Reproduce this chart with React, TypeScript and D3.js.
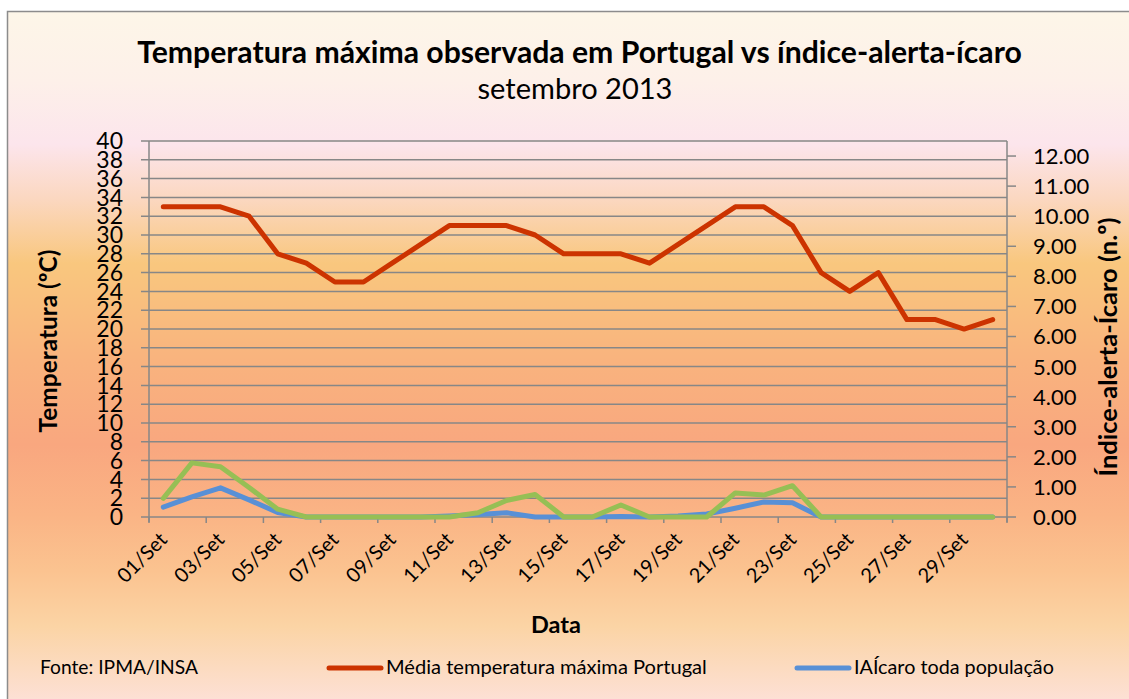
import React, { useRef, useEffect } from "react";
import * as d3 from "d3";

const W = 1129;
const H = 699;

const DAYS = [
  "01/Set", "02/Set", "03/Set", "04/Set", "05/Set", "06/Set", "07/Set", "08/Set", "09/Set", "10/Set",
  "11/Set", "12/Set", "13/Set", "14/Set", "15/Set", "16/Set", "17/Set", "18/Set", "19/Set", "20/Set",
  "21/Set", "22/Set", "23/Set", "24/Set", "25/Set", "26/Set", "27/Set", "28/Set", "29/Set", "30/Set",
];

// temperatura máxima média (eixo esquerdo, ºC)
const TEMP_MAX = [33, 33, 33, 32, 28, 27, 25, 25, 27, 29, 31, 31, 31, 30, 28, 28, 28, 27, 29, 31, 33, 33, 31, 26, 24, 26, 21, 21, 20, 21];
// índice ícaro (eixo direito)
const ICARO_TODA = [0.33, 0.67, 0.97, 0.57, 0.15, 0, 0, 0, 0, 0, 0.03, 0.08, 0.14, 0, 0, 0, 0.02, 0, 0.03, 0.1, 0.29, 0.5, 0.47, 0, 0, 0, 0, 0, 0, 0];
const ICARO_OUTRO = [0.62, 1.8, 1.67, 0.98, 0.26, 0, 0, 0, 0, 0, 0, 0.14, 0.55, 0.75, 0, 0, 0.4, 0, 0, 0, 0.8, 0.73, 1.04, 0, 0, 0, 0, 0, 0, 0];

const LEFT_TICKS = d3.range(0, 41, 2);
const RIGHT_TICKS = d3.range(0, 13, 1);

const TITLE = "Temperatura máxima observada em Portugal vs índice-alerta-ícaro";
const SUBTITLE = "setembro 2013";
const FONT = "Lato, 'Open Sans', sans-serif";
const GRID = "#878787";
const RED = "#cc3300";
const BLUE = "#5890d6";
const GREEN = "#96bf55";

// ajusta o tamanho da fonte para uma largura alvo
function fit(sel: d3.Selection<SVGTextElement, unknown, null, undefined>, target: number) {
  const node = sel.node();
  if (!node) return;
  const len = node.getComputedTextLength();
  const fs = parseFloat(sel.attr("font-size"));
  if (len > 0) sel.attr("font-size", (fs * target) / len);
}

export default function App() {
  const svgRef = useRef<SVGSVGElement | null>(null);

  useEffect(() => {
    if (!svgRef.current) return;
    const svg = d3.select(svgRef.current);
    svg.selectAll("*").remove();

    const plot = { left: 149, right: 1007, top: 141, bottom: 517 };

    const x = d3.scaleBand<string>().domain(DAYS).range([plot.left, plot.right]).paddingInner(0).paddingOuter(0);
    const cx = (d: string) => (x(d) ?? 0) + x.bandwidth() / 2;
    const yL = d3.scaleLinear().domain([0, 40]).range([plot.bottom, plot.top]);
    const yR = d3.scaleLinear().domain([0, 12.5]).range([plot.bottom, plot.top]);

    // fundo em gradiente
    const defs = svg.append("defs");
    const grad = defs.append("linearGradient").attr("id", "bg").attr("x1", 0).attr("y1", 0).attr("x2", 0).attr("y2", 1);
    [
      [0, "#fdf6e8"],
      [0.1, "#fdf0e9"],
      [0.19, "#fce5ec"],
      [0.27, "#fbd7bf"],
      [0.36, "#f9c77e"],
      [0.5, "#f9b37e"],
      [0.62, "#f9a77f"],
      [0.72, "#fab485"],
      [0.8, "#fbc390"],
      [0.88, "#fbd4a5"],
      [1, "#fde2dc"],
    ].forEach(([o, c]) => grad.append("stop").attr("offset", o as number).attr("stop-color", c as string));

    svg
      .append("rect")
      .attr("x", 7.5)
      .attr("y", 11.5)
      .attr("width", W + 20)
      .attr("height", H)
      .attr("fill", "url(#bg)")
      .attr("stroke", "#8c8c8c")
      .attr("stroke-width", 1.5);

    // grelha
    svg
      .append("g")
      .selectAll("line")
      .data(LEFT_TICKS)
      .join("line")
      .attr("x1", plot.left - 8)
      .attr("x2", plot.right)
      .attr("y1", (d) => yL(d))
      .attr("y2", (d) => yL(d))
      .attr("stroke", GRID)
      .attr("stroke-width", 1.5);

    // eixo esquerdo
    svg
      .append("line")
      .attr("x1", plot.left)
      .attr("x2", plot.left)
      .attr("y1", plot.top)
      .attr("y2", plot.bottom + 5)
      .attr("stroke", GRID)
      .attr("stroke-width", 1.5);

    svg
      .append("g")
      .selectAll("text")
      .data(LEFT_TICKS)
      .join("text")
      .attr("x", 123)
      .attr("y", (d) => yL(d))
      .attr("dy", "0.36em")
      .attr("text-anchor", "end")
      .attr("font-family", FONT)
      .attr("font-size", 23)
      .attr("fill", "#000")
      .text((d) => d);

    // eixo direito
    svg
      .append("line")
      .attr("x1", plot.right)
      .attr("x2", plot.right)
      .attr("y1", plot.top)
      .attr("y2", plot.bottom + 5)
      .attr("stroke", GRID)
      .attr("stroke-width", 1.5);

    const rt = svg.append("g");
    rt.selectAll("line")
      .data(RIGHT_TICKS)
      .join("line")
      .attr("x1", plot.right)
      .attr("x2", plot.right + 9)
      .attr("y1", (d) => yR(d))
      .attr("y2", (d) => yR(d))
      .attr("stroke", GRID)
      .attr("stroke-width", 1.5);
    rt.selectAll("text")
      .data(RIGHT_TICKS)
      .join("text")
      .attr("x", 1033)
      .attr("y", (d) => yR(d))
      .attr("dy", "0.36em")
      .attr("font-family", FONT)
      .attr("font-size", 22)
      .attr("fill", "#000")
      .text((d) => d3.format(".2f")(d));

    // eixo x: marcas entre categorias, de 2 em 2
    const xTicks = DAYS.filter((_, i) => i % 2 === 0).map((d) => x(d) ?? 0).concat([plot.right]);
    svg
      .append("g")
      .selectAll("line")
      .data(xTicks)
      .join("line")
      .attr("x1", (d) => d)
      .attr("x2", (d) => d)
      .attr("y1", plot.bottom)
      .attr("y2", plot.bottom + 6)
      .attr("stroke", GRID)
      .attr("stroke-width", 1.5);

    svg
      .append("g")
      .selectAll("text")
      .data(DAYS.filter((_, i) => i % 2 === 0))
      .join("text")
      .attr("transform", (d) => `translate(${cx(d) + 5},${plot.bottom + 24}) rotate(-45)`)
      .attr("text-anchor", "end")
      .attr("font-family", FONT)
      .attr("font-size", 20)
      .attr("fill", "#000")
      .text((d) => d);

    // linhas
    const lineL = d3
      .line<number>()
      .x((_, i) => cx(DAYS[i]))
      .y((d) => yL(d));
    const lineR = d3
      .line<number>()
      .x((_, i) => cx(DAYS[i]))
      .y((d) => yR(d));

    const series: [number[], typeof lineL, string][] = [
      [TEMP_MAX, lineL, RED],
      [ICARO_TODA, lineR, BLUE],
      [ICARO_OUTRO, lineR, GREEN],
    ];
    series.forEach(([data, gen, color]) => {
      svg
        .append("path")
        .datum(data)
        .attr("fill", "none")
        .attr("stroke", color)
        .attr("stroke-width", 5)
        .attr("stroke-linejoin", "round")
        .attr("stroke-linecap", "round")
        .attr("d", gen as never);
    });

    // títulos
    const t1 = svg
      .append("text")
      .attr("x", 579.5)
      .attr("y", 63)
      .attr("text-anchor", "middle")
      .attr("font-family", FONT)
      .attr("font-weight", "bold")
      .attr("font-size", 26)
      .text(TITLE);
    fit(t1, 885);

    const t2 = svg
      .append("text")
      .attr("x", 575)
      .attr("y", 99)
      .attr("text-anchor", "middle")
      .attr("font-family", FONT)
      .attr("font-size", 26)
      .text(SUBTITLE);
    fit(t2, 195);

    const ax = svg
      .append("text")
      .attr("x", 556)
      .attr("y", 633)
      .attr("text-anchor", "middle")
      .attr("font-family", FONT)
      .attr("font-weight", "bold")
      .attr("font-size", 23)
      .text("Data");
    fit(ax, 50);

    const ayL = svg
      .append("text")
      .attr("transform", "translate(47,341) rotate(-90)")
      .attr("text-anchor", "middle")
      .attr("dominant-baseline", "central")
      .attr("font-family", FONT)
      .attr("font-weight", "bold")
      .attr("font-size", 20)
      .text("Temperatura (ºC)");
    fit(ayL, 183);

    const ayR = svg
      .append("text")
      .attr("transform", "translate(1107,347) rotate(-90)")
      .attr("text-anchor", "middle")
      .attr("dominant-baseline", "central")
      .attr("font-family", FONT)
      .attr("font-weight", "bold")
      .attr("font-size", 20)
      .text("Índice-alerta-Ícaro (n.º)");
    fit(ayR, 259);

    // fonte e legenda
    const src = svg
      .append("text")
      .attr("x", 40)
      .attr("y", 674)
      .attr("font-family", FONT)
      .attr("font-size", 18)
      .text("Fonte: IPMA/INSA");
    fit(src, 158);

    const legend: [string, string, number, number][] = [
      ["Média temperatura máxima Portugal", RED, 329, 321],
      ["IAÍcaro toda população", BLUE, 797, 200],
    ];
    legend.forEach(([label, color, lx, tw]) => {
      svg
        .append("line")
        .attr("x1", lx)
        .attr("x2", lx + 52)
        .attr("y1", 668)
        .attr("y2", 668)
        .attr("stroke", color)
        .attr("stroke-width", 5)
        .attr("stroke-linecap", "round");
      const t = svg
        .append("text")
        .attr("x", lx + 57)
        .attr("y", 674)
        .attr("font-family", FONT)
        .attr("font-size", 18)
        .text(label);
      fit(t, tw);
    });
  }, []);

  return (
    <svg
      ref={svgRef}
      width={W}
      height={H}
      style={{ position: "absolute", left: 0, top: 0, background: "#fff" }}
    />
  );
}
